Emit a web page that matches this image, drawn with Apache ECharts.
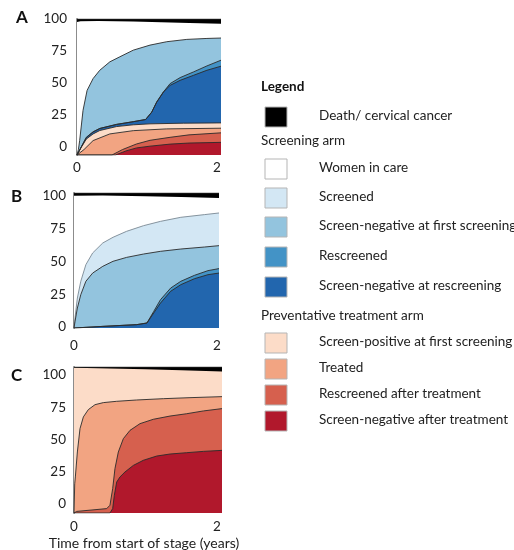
<!DOCTYPE html>
<html><head><meta charset="utf-8">
<script src="https://cdn.jsdelivr.net/npm/echarts@6/dist/echarts.min.js"></script>
<style>html,body{margin:0;padding:0;background:#fff}#c{width:514px;height:550px}</style>
</head><body><div id="c"></div>
<script>
// ---------- DATA (boundary of each layer, % of women, vs time in years) ----------
const yTicks = [0, 25, 50, 75, 100];
const xTicks = [0, 2];

// Panel A
const deathA    = [[0,97.8],[0.05,98.3],[0.3,98.6],[0.8,98.2],[1.2,97.6],[1.6,97],[2.057,96.5]];
const snFirstA  = [[0,0],[0.02,4],[0.038,10.6],[0.086,32.8],[0.144,47.5],[0.23,56.2],[0.325,62.3],[0.469,68.5],[0.612,72.2],[0.804,77.1],[1.043,80.8],[1.282,83.3],[1.569,85],[1.856,85.7],[2.057,86]];
const rescrA    = [[0,0],[0.062,6],[0.134,13],[0.23,17],[0.325,19.5],[0.565,22.5],[0.804,24.5],[0.98,26.1],[1.067,31.5],[1.138,38.9],[1.234,46.3],[1.33,52.5],[1.473,56.9],[1.665,61.1],[1.856,65.5],[2.057,69.7]];
const snReA     = [[0,0],[0.062,6],[0.134,13],[0.23,17],[0.325,19.5],[0.565,22.5],[0.804,24.5],[0.98,26.1],[1.067,31.5],[1.138,38.9],[1.234,46.3],[1.33,51.2],[1.473,54.9],[1.665,58.6],[1.856,62.3],[2.057,65.3]];
const spA       = [[0,0],[0.062,5.7],[0.134,11.8],[0.23,15.5],[0.325,18],[0.565,20.9],[0.804,22.2],[1.043,22.9],[1.52,23.4],[2.057,23.6]];
const treatedA  = [[0,0],[0.1,4],[0.23,10.6],[0.469,15.5],[0.804,17.9],[1.282,19.2],[2.057,19.7]];
const ratA      = [[0,0],[0.5,0],[0.65,4],[0.85,8.1],[1.043,10.8],[1.33,13],[1.6,14.8],[2.057,16.3]];
const snatA     = [[0,0],[0.55,0],[0.7,3],[0.85,5.2],[1.043,6.5],[1.33,8],[1.6,8.8],[2.057,9.3]];

// Panel B
const deathB    = [[0,98],[0.4,98.2],[1,97.6],[1.5,97],[2.028,96.3]];
const screenedB = [[0,0],[0.015,8],[0.047,22.2],[0.095,34.6],[0.166,46.9],[0.261,55.6],[0.403,63],[0.546,67.2],[0.735,71.6],[0.973,75.8],[1.21,79],[1.494,82],[1.827,84],[2.028,85.2]];
const snFirstB  = [[0,0],[0.015,5],[0.047,14.8],[0.095,24.7],[0.166,34.6],[0.261,40.7],[0.403,45.7],[0.546,49.4],[0.735,52.3],[0.973,54.8],[1.21,56.8],[1.494,58.5],[1.827,60],[2.028,61]];
const rescrB    = [[0,0],[0.403,1.2],[0.878,2.5],[1.02,3.7],[1.115,12.3],[1.21,21],[1.352,29.6],[1.494,34.6],[1.684,39],[1.874,42.5],[2.028,44]];
const snReB     = [[0,0],[0.403,1.2],[0.878,2.5],[1.02,3.7],[1.115,11.1],[1.21,18.5],[1.352,27.2],[1.494,32.1],[1.684,36.5],[1.874,39.5],[2.028,40.7]];

// Panel C
const deathC    = [[0,99.5],[0.5,99],[1,98.5],[1.5,97.8],[2.07,97]];
const treatedC  = [[0,0],[0.01,20],[0.019,24.7],[0.047,41.8],[0.084,57.8],[0.131,65.8],[0.2,70.8],[0.294,74.2],[0.41,75.6],[0.597,76.5],[0.876,77.4],[1.249,78.3],[1.622,79],[2.07,79.7]];
const ratC      = [[0,0],[0.037,1.1],[0.457,3],[0.503,5.3],[0.541,16.7],[0.573,30.4],[0.62,41.8],[0.69,50.9],[0.783,56.6],[0.923,61.2],[1.11,64.2],[1.343,66.4],[1.576,68],[1.809,69.9],[2.07,71.5]];
const snatC     = [[0,0],[0.503,0],[0.541,3],[0.564,12.1],[0.597,21.2],[0.643,24.7],[0.713,28.1],[0.83,32.6],[0.97,36.1],[1.156,39],[1.343,40.4],[1.576,41.3],[1.809,42.2],[2.07,42.9]];

const legendItems = [
  {type:'item', name:'Death/ cervical cancer', key:'death'},
  {type:'head', name:'Screening arm'},
  {type:'item', name:'Women in care', key:'care'},
  {type:'item', name:'Screened', key:'screened'},
  {type:'item', name:'Screen-negative at first screening', key:'snFirst'},
  {type:'item', name:'Rescreened', key:'rescr'},
  {type:'item', name:'Screen-negative at rescreening', key:'snRe'},
  {type:'head', name:'Preventative treatment arm'},
  {type:'item', name:'Screen-positive at first screening', key:'sp'},
  {type:'item', name:'Treated', key:'treated'},
  {type:'item', name:'Rescreened after treatment', key:'rat'},
  {type:'item', name:'Screen-negative after treatment', key:'snat'}
];

// ---------- STYLE / LAYOUT ----------
const COL = {death:'#000000', care:'#ffffff', screened:'#d3e7f4', snFirst:'#93c4de', rescr:'#4393c6',
  snRe:'#2266ae', sp:'#fcdcc8', treated:'#f2a482', rat:'#d6604e', snat:'#b1182c'};
const FONT = 'Lato';
const panels = [
  {letter:'A', grid:{left:77, top:19, width:144, height:136}, xMax:2.057, yLab:[-6.25,100], xMargin:6, yMargin:10,
   layers:[['death',null,true],['care',deathA,false],['snFirst',snFirstA,true],['rescr',rescrA,true],['snRe',snReA,true],
           ['sp',spA,true],['treated',treatedA,true],['rat',ratA,true],['snat',snatA,true]]},
  {letter:'B', grid:{left:74, top:193, width:145, height:135}, xMax:2.028, yLab:[-0.8,102.3], xMargin:11, yMargin:8,
   layers:[['death',null,true],['care',deathB,false],['screened',screenedB,'#7a8894'],['snFirst',snFirstB,true],
           ['rescr',rescrB,true],['snRe',snReB,true]]},
  {letter:'C', grid:{left:74, top:367, width:148, height:146}, xMax:2.07, yLab:[-7,106.2], xMargin:7, yMargin:8,
   layers:[['death',null,true],['sp',deathC,false],['treated',treatedC,true],['rat',ratC,true],['snat',snatC,true]]}
];
const letterPos = [[23,19],[18,198],[18,377]];

const grids=[], xAxes=[], yAxes=[], series=[];
panels.forEach((p, i) => {
  grids.push(Object.assign({outerBoundsMode:'none', containLabel:false}, p.grid));
  xAxes.push({type:'value', gridIndex:i, min:0, max:p.xMax,
    axisLine:{show:false}, axisTick:{show:false}, splitLine:{show:false},
    axisLabel:{customValues:xTicks, fontFamily:FONT, fontSize:13.5, color:'#222', margin:p.xMargin, showMinLabel:true, showMaxLabel:true}});
  yAxes.push({type:'value', gridIndex:i, min:0, max:100, show:false});
  yAxes.push({type:'value', gridIndex:i, min:p.yLab[0], max:p.yLab[1], position:'left',
    axisLine:{show:true, lineStyle:{color:'#8c8c8c', width:2}}, axisTick:{show:false}, splitLine:{show:false},
    axisLabel:{customValues:yTicks, fontFamily:FONT, fontSize:13.5, color:'#222', margin:p.yMargin, showMinLabel:true, showMaxLabel:true}});
  p.layers.forEach(([key, data, line]) => {
    const d = data || [[0,100],[p.xMax,100]];
    series.push({type:'line', xAxisIndex:i, yAxisIndex:2*i, data:d, showSymbol:false, smooth:false,
      silent:true, animation:false,
      lineStyle: line ? {color: (typeof line==='string')?line:'#2b2b2b', width:1, opacity:0.9} : {width:0, opacity:0},
      areaStyle:{color:COL[key], opacity:1, origin:'start'}});
  });
});

// legend built with graphic elements
const gfx = [];
panels.forEach((p,i)=>gfx.push({type:'text', left:letterPos[i][0]-7, top:letterPos[i][1]-10,
  style:{text:p.letter, font:'bold 17px '+FONT, fill:'#111'}}));
gfx.push({type:'text', x:144, y:543, style:{text:'Time from start of stage (years)', font:'14px '+FONT, fill:'#222', align:'center', verticalAlign:'middle'}});
gfx.push({type:'text', x:261, y:87, style:{text:'Legend', font:'bold 13.5px '+FONT, fill:'#111', verticalAlign:'middle'}});
const legY = [117,141,169,198,227,257,287,316,343,369,395,421];
legendItems.forEach((it, k) => {
  const y = legY[k];
  if (it.type === 'head') {
    gfx.push({type:'text', x:261, y:y, style:{text:it.name, font:'13.5px '+FONT, fill:'#222', verticalAlign:'middle'}});
  } else {
    gfx.push({type:'rect', shape:{x:265, y:y-10, width:22, height:20},
      style:{fill:COL[it.key], stroke:'#b5b5b5', lineWidth:1}});
    gfx.push({type:'text', x:319, y:y-1, style:{text:it.name, font:'13.5px '+FONT, fill:'#222', verticalAlign:'middle'}});
  }
});

const chart = echarts.init(document.getElementById('c'), null, {renderer:'canvas'});
chart.setOption({backgroundColor:'#fff', animation:false, grid:grids, xAxis:xAxes, yAxis:yAxes, series:series, graphic:gfx});
</script></body></html>
